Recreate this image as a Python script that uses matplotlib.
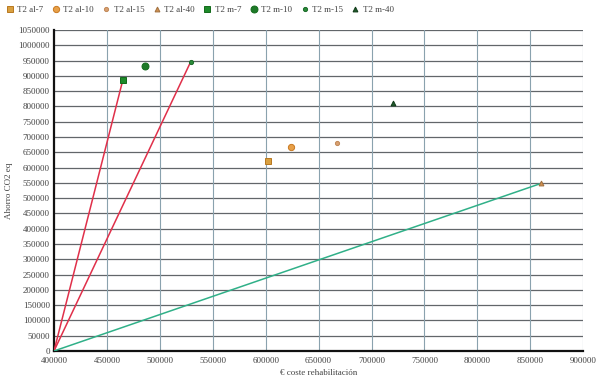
import matplotlib
matplotlib.use("Agg")
import matplotlib.pyplot as plt

series_names = ["T2 al-7", "T2 al-10", "T2 al-15", "T2 al-40",
                "T2 m-7", "T2 m-10", "T2 m-15", "T2 m-40"]
cost = [602000, 624000, 667000, 860000, 465000, 486000, 529000, 720000]
saving = [622000, 667000, 680000, 548000, 886000, 932000, 945000, 812000]

origin_x = 400000
origin_y = 0
red_lines = ["T2 m-7", "T2 m-15"]
green_lines = ["T2 al-40"]

xticks = list(range(400000, 900001, 50000))
yticks = list(range(0, 1050001, 50000))

markers = ["s", "o", "o", "^", "s", "o", "o", "^"]
sizes = [4, 4.5, 3, 3.5, 4.5, 5, 3, 3.5]
faces = ["#d9a040", "#e8a048", "#d8a070", "#d09050",
         "#1e8a2a", "#1e7a28", "#2a8a38", "#1f5a2a"]
edges = ["#b87820", "#c87820", "#c08858", "#a07040",
         "#126a1a", "#126a1a", "#1a6a28", "#103a18"]

plt.rcParams["font.family"] = ["Liberation Serif", "DejaVu Serif"]

fig = plt.figure(figsize=(6, 3.83), dpi=100)
ax = fig.add_axes([0.09, 0.0836, 0.882, 0.838])

for name in red_lines:
    i = series_names.index(name)
    ax.plot([origin_x, cost[i]], [origin_y, saving[i]], color="#e0304a", lw=1.1, zorder=3)
for name in green_lines:
    i = series_names.index(name)
    ax.plot([origin_x, cost[i]], [origin_y, saving[i]], color="#30b088", lw=1.1, zorder=3)

for i, name in enumerate(series_names):
    ax.plot([cost[i]], [saving[i]], linestyle="none", marker=markers[i],
            markersize=sizes[i], markerfacecolor=faces[i], markeredgecolor=edges[i],
            markeredgewidth=0.7, label=name, zorder=4)

ax.set_xlim(400000, 900000)
ax.set_ylim(0, 1050000)
ax.set_xticks(xticks)
ax.set_yticks(yticks)
ax.set_xticklabels([str(v) for v in xticks], fontsize=6.5, color="#444444")
ax.set_yticklabels([str(v) for v in yticks], fontsize=6.5, color="#444444")
ax.tick_params(axis="x", length=0, pad=4)
ax.tick_params(axis="y", length=0, pad=3)

for y in yticks[1:]:
    ax.axhline(y, color="#62666a", lw=0.9, zorder=1)
for x in xticks[1:]:
    ax.axvline(x, color="#8aa2ae", lw=0.8, zorder=1)

for s in ["top", "right"]:
    ax.spines[s].set_visible(False)
ax.spines["left"].set_linewidth(1.6)
ax.spines["bottom"].set_linewidth(1.6)
ax.spines["left"].set_color("#111111")
ax.spines["bottom"].set_color("#111111")

ax.set_xlabel("€ coste rehabilitación", fontsize=6.5, color="#444444", labelpad=3)
ax.set_ylabel("Ahorro CO2 eq", fontsize=6.5, color="#444444", labelpad=4)

fig.legend(loc="upper left", bbox_to_anchor=(0.0, 1.0), ncol=8, fontsize=6.5,
           frameon=False, handletextpad=0.3, columnspacing=0.9, handlelength=1.0,
           labelcolor="#444444", borderaxespad=0.2)

fig.savefig("out.png", dpi=100)
